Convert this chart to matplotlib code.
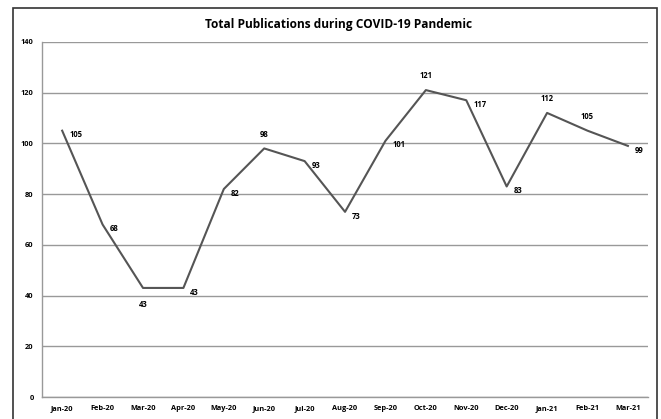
import matplotlib.pyplot as plt
from matplotlib.patches import Rectangle

# 数据
months = ['Jan-20', 'Feb-20', 'Mar-20', 'Apr-20', 'May-20', 'Jun-20', 'Jul-20', 'Aug-20',
          'Sep-20', 'Oct-20', 'Nov-20', 'Dec-20', 'Jan-21', 'Feb-21', 'Mar-21']
publications = [105, 68, 43, 43, 82, 98, 93, 73, 101, 121, 117, 83, 112, 105, 99]
# 标签位置: r = 右侧, a = 上方, b = 下方
label_pos = ['r', 'r', 'b', 'r', 'r', 'a', 'r', 'r', 'r', 'a', 'r', 'r', 'a', 'a', 'r']

plt.rcParams['font.family'] = ['Open Sans', 'DejaVu Sans']

fig = plt.figure(figsize=(6.61, 4.19), dpi=100)
ax = fig.add_axes([0.0635, 0.0525, 0.917, 0.8475])

x = list(range(len(months)))
ax.plot(x, publications, color='#555555', lw=1.5)

# 数据标签
for xi, v, p in zip(x, publications, label_pos):
    if p == 'r':
        ax.annotate(str(v), (xi, v), xytext=(5, -3), textcoords='offset points',
                    fontsize=5.5, fontweight='bold', ha='left', va='center')
    elif p == 'a':
        ax.annotate(str(v), (xi, v), xytext=(0, 7), textcoords='offset points',
                    fontsize=5.5, fontweight='bold', ha='center', va='bottom')
    else:
        ax.annotate(str(v), (xi, v), xytext=(0, -9), textcoords='offset points',
                    fontsize=5.5, fontweight='bold', ha='center', va='top')

# 坐标轴
ax.set_xlim(-0.5, len(months) - 0.5)
ax.set_ylim(0, 140)
ax.set_yticks(range(0, 141, 20))
ax.set_xticks(x)
ax.set_xticklabels(months)
ax.tick_params(axis='both', length=0, labelsize=5.3, pad=6)
for lab in ax.get_xticklabels() + ax.get_yticklabels():
    lab.set_fontweight('bold')
ax.grid(axis='y', color='#999999', lw=1)
ax.set_axisbelow(True)
for s in ['top', 'right']:
    ax.spines[s].set_visible(False)
for s in ['left', 'bottom']:
    ax.spines[s].set_color('#999999')
    ax.spines[s].set_linewidth(1)

fig.text(0.512, 0.941, 'Total Publications during COVID-19 Pandemic',
         fontsize=8.6, fontweight='bold', ha='center', va='center')

# 外框
fig.patches.append(Rectangle((13 / 661, -0.01), (657 - 13) / 661, 1 - 8 / 419 + 0.01,
                             transform=fig.transFigure, fill=False,
                             edgecolor='#333333', lw=1.2))

plt.savefig('out.png', dpi=100)
